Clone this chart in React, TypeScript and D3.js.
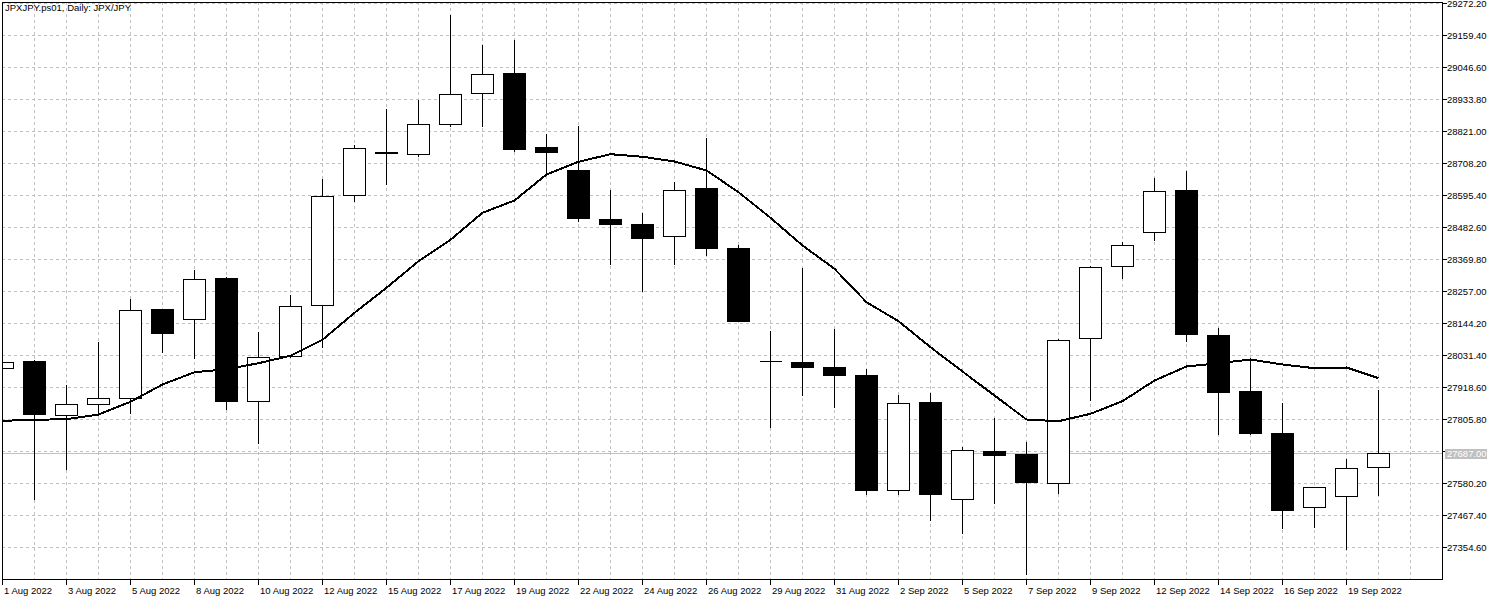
import React from "react";
import * as d3 from "d3";

const title = "JPXJPY.ps01, Daily:  JPX/JPY";

const dates = [
  "1 Aug 2022", "2 Aug 2022", "3 Aug 2022", "4 Aug 2022", "5 Aug 2022", "7 Aug 2022",
  "8 Aug 2022", "9 Aug 2022", "10 Aug 2022", "11 Aug 2022", "12 Aug 2022", "14 Aug 2022",
  "15 Aug 2022", "16 Aug 2022", "17 Aug 2022", "18 Aug 2022", "19 Aug 2022", "21 Aug 2022",
  "22 Aug 2022", "23 Aug 2022", "24 Aug 2022", "25 Aug 2022", "26 Aug 2022", "28 Aug 2022",
  "29 Aug 2022", "30 Aug 2022", "31 Aug 2022", "1 Sep 2022", "2 Sep 2022", "4 Sep 2022",
  "5 Sep 2022", "6 Sep 2022", "7 Sep 2022", "8 Sep 2022", "9 Sep 2022", "11 Sep 2022",
  "12 Sep 2022", "13 Sep 2022", "14 Sep 2022", "15 Sep 2022", "16 Sep 2022", "18 Sep 2022",
  "19 Sep 2022", "20 Sep 2022",
];

const openValues = [
  27985.6, 28010.3, 27818.8, 27857.6, 27878.7, 28193.6, 28157.3, 28302.9, 27868.2, 28026.8,
  28207.7, 28594.4, 28747.0, 28738.9, 28844.6, 28953.9, 29025.5, 28764.6, 28683.6, 28510.8,
  28493.2, 28449.8, 28620.1, 28408.6, 28010.3, 28005.7, 27989.1, 27960.9, 27554.5, 27864.7,
  27522.7, 27693.0, 27683.5, 27581.3, 28090.3, 28344.1, 28463.9, 28613.0, 28103.0, 27904.5,
  27756.5, 27494.6, 27533.3, 27635.6,
];
const highValues = [
  28017.0, 28017.3, 27929.2, 28080.8, 28232.4, 28197.1, 28334.6, 28309.9, 28116.0, 28246.5,
  28655.4, 28775.2, 28902.1, 28933.8, 29233.4, 29127.7, 29145.3, 28814.0, 28841.1, 28616.6,
  28535.5, 28644.8, 28799.9, 28422.7, 28119.6, 28342.7, 28126.6, 27985.6, 27895.0, 27901.0,
  27710.6, 27812.9, 27728.3, 28090.3, 28349.7, 28434.5, 28659.9, 28682.5, 28131.2, 28016.2,
  27865.8, 27566.1, 27668.4, 27912.6,
];
const lowValues = [
  27980.0, 27524.9, 27630.6, 27822.4, 27828.0, 28042.0, 28020.9, 27842.1, 27722.2, 28024.4,
  28058.6, 28574.3, 28635.3, 28731.8, 28838.7, 28839.7, 28751.6, 28676.5, 28504.8, 28353.2,
  28257.0, 28353.2, 28384.0, 28149.5, 27778.7, 27890.5, 27849.2, 27542.5, 27542.5, 27450.8,
  27405.1, 27510.8, 27259.4, 27546.0, 27872.8, 28303.9, 28435.7, 28081.8, 27754.0, 27754.0,
  27422.7, 27425.1, 27346.5, 27537.9,
];
const closeValues = [
  28006.7, 27822.4, 27857.6, 27878.7, 28189.0, 28110.0, 28298.3, 27870.3, 28023.3, 28203.1,
  28591.5, 28760.1, 28743.5, 28844.6, 28950.4, 29020.9, 28758.6, 28748.1, 28515.5, 28494.3,
  28444.9, 28612.0, 28409.7, 28152.3, 28010.3, 27990.2, 27962.0, 27556.6, 27861.1, 27542.5,
  27695.4, 27679.9, 27583.8, 28083.2, 28340.6, 28418.1, 28608.4, 28104.4, 27902.1, 27757.6,
  27486.1, 27565.1, 27632.0, 27687.0,
];
const maValues = [
  27801.2, 27804.8, 27806.9, 27823.4, 27868.2, 27929.2, 27972.5, 27983.1, 28004.3, 28030.4,
  28086.7, 28181.9, 28270.1, 28363.8, 28439.3, 28534.6, 28577.8, 28669.5, 28714.2, 28741.0,
  28732.0, 28715.3, 28683.6, 28607.1, 28516.8, 28419.2, 28337.0, 28219.3, 28152.3, 28060.7,
  27975.0, 27890.4, 27805.8, 27799.8, 27825.9, 27870.4, 27943.3, 27992.7, 28004.3, 28017.3,
  27999.7, 27986.6, 27989.1, 27951.4,
];

const priceTicks = [
  29272.2, 29159.4, 29046.6, 28933.8, 28821.0, 28708.2, 28595.4, 28482.6, 28369.8, 28257.0,
  28144.2, 28031.4, 27918.6, 27805.8, 27693.0, 27580.2, 27467.4, 27354.6,
];
const currentPrice = 27687.0;

const W = 1500;
const H = 600;
const left = 2;
const right = 1442;
const top = 2;
const bottom = 579;
const FONT = "'Liberation Sans', Arial, sans-serif";
const GRID = "#c0c0c0";

export default function App() {
  const n = dates.length;
  const x = d3.scaleLinear().domain([0, 1]).range([2.5, 34.5]);
  const y = d3.scaleLinear().domain([29272.2, 27354.6]).range([3.5, 547.5]);
  const snap = (v: number) => Math.round(v - 0.5) + 0.5;

  const gridXs = d3.range(1, 45).map((i) => x(i));
  const maLine = d3
    .line<number>()
    .x((_, i) => x(i))
    .y((d) => y(d))(maValues) as string;

  const labelTicks = d3.range(0, n, 2);
  const curY = snap(y(currentPrice));

  return (
    <svg
      width={W}
      height={H}
      style={{ position: "fixed", left: 0, top: 0, background: "#fff" }}
      shapeRendering="crispEdges"
    >
      <defs>
        <clipPath id="plot">
          <rect x={left} y={top} width={right - left} height={bottom - top} />
        </clipPath>
      </defs>
      <rect x={0} y={0} width={W} height={H} fill="#fff" />
      <g clipPath="url(#plot)">
        {gridXs.map((gx, i) => (
          <line key={"gx" + i} x1={gx} x2={gx} y1={top} y2={bottom} stroke={GRID} strokeDasharray="3,3" />
        ))}
        {priceTicks.map((t, i) => (
          <line key={"gy" + i} x1={left} x2={right} y1={snap(y(t))} y2={snap(y(t))} stroke={GRID} strokeDasharray="3,3" />
        ))}
        <line x1={left} x2={right} y1={curY} y2={curY} stroke={GRID} />
        {dates.map((d, i) => {
          const o = openValues[i];
          const c = closeValues[i];
          const cx = x(i);
          const yh = snap(y(highValues[i]));
          const yl = snap(y(lowValues[i]));
          const yt = snap(y(Math.max(o, c)));
          const yb = snap(y(Math.min(o, c)));
          const bull = c >= o;
          return (
            <g key={"c" + i}>
              <line x1={cx} x2={cx} y1={yh} y2={yl} stroke="#000" />
              {yb - yt < 1 ? (
                <line x1={cx - 11} x2={cx + 11} y1={yt} y2={yt} stroke="#000" />
              ) : (
                <rect
                  x={cx - 11}
                  y={yt}
                  width={22}
                  height={yb - yt}
                  fill={bull ? "#fff" : "#000"}
                  stroke="#000"
                />
              )}
            </g>
          );
        })}
        <path d={maLine} fill="none" stroke="#000" strokeWidth={2} />
      </g>
      {/* frame */}
      <line x1={left + 0.5} x2={left + 0.5} y1={top} y2={bottom + 1} stroke="#000" />
      <line x1={right + 0.5} x2={right + 0.5} y1={top} y2={bottom + 1} stroke="#000" />
      <line x1={left} x2={right + 1} y1={bottom + 0.5} y2={bottom + 0.5} stroke="#000" />
      <line x1={left} x2={right + 1} y1={top + 0.5} y2={top + 0.5} stroke="#000" />
      <text x={5} y={11} fontFamily={FONT} fontSize={9.5} fill="#000" shapeRendering="auto">
        {title}
      </text>
      {/* right axis */}
      {priceTicks.map((t, i) => {
        const ty = snap(y(t));
        return (
          <g key={"pt" + i}>
            <line x1={right + 1} x2={right + 5} y1={ty} y2={ty} stroke="#000" />
            <text x={1447} y={ty + 3.5} fontFamily={FONT} fontSize={9.5} fill="#000">
              {t.toFixed(2)}
            </text>
          </g>
        );
      })}
      <rect x={1445} y={curY - 4.5} width={42} height={10} fill={GRID} />
      <text x={1447} y={curY + 3.5} fontFamily={FONT} fontSize={9.5} fill="#fff">
        {currentPrice.toFixed(2)}
      </text>
      {/* bottom axis */}
      {labelTicks.map((i) => (
        <g key={"xt" + i}>
          <line x1={x(i)} x2={x(i)} y1={bottom + 1} y2={bottom + 6} stroke="#000" />
          <text x={x(i) + 1.5} y={594} fontFamily={FONT} fontSize={9.5} fill="#000">
            {dates[i]}
          </text>
        </g>
      ))}
    </svg>
  );
}
